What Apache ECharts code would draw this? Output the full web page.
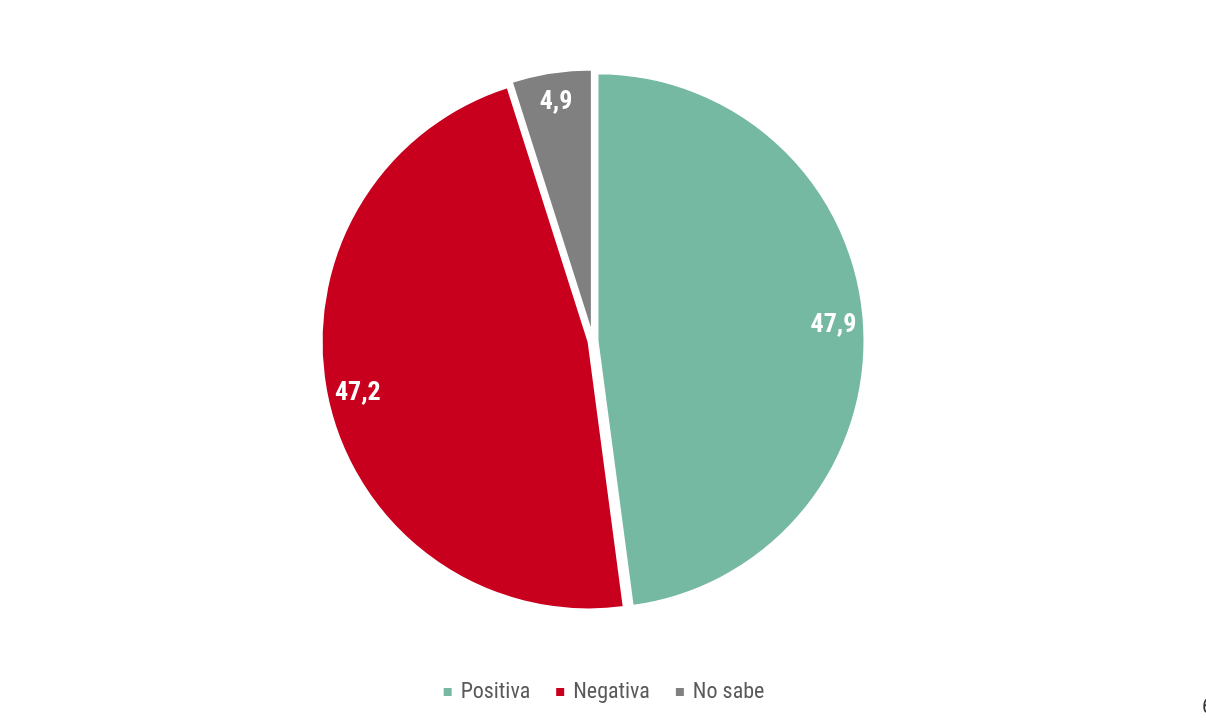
<!DOCTYPE html>
<html>
<head>
<meta charset="utf-8">
<script src="https://cdn.jsdelivr.net/npm/echarts@6/dist/echarts.min.js"></script>
<style>
html,body{margin:0;padding:0;background:#fff;}
#c{width:1206px;height:720px;}
</style>
</head>
<body>
<div id="c"></div>
<script>
const categories = ['Positiva', 'Negativa', 'No sabe'];
const values = [47.9, 47.2, 4.9];
const colors = ['#76B9A2', '#C8001E', '#808080'];
const pageNumber = '6';

const FONT = '"Roboto Condensed", "Arial Narrow", "Liberation Sans Narrow", sans-serif';
const chart = echarts.init(document.getElementById('c'), null, {renderer: 'canvas'});

const mainData = categories.map((n, i) => ({
  name: n, value: values[i], selected: true,
  itemStyle: {color: colors[i]}
}));
const labelData = categories.map((n, i) => ({
  name: n, value: values[i], selected: true
}));

const CENTER = [593, 341];

chart.setOption({
  animation: false,
  backgroundColor: '#ffffff',
  title: {
    text: pageNumber,
    left: 1197, top: 692,
    textStyle: {fontFamily: FONT, fontSize: 21, fontWeight: 'normal', color: '#333'}
  },
  legend: {
    data: categories,
    bottom: 12,
    left: 'center',
    itemWidth: 10,
    itemHeight: 10,
    itemGap: 24,
    icon: 'rect',
    textStyle: {fontFamily: FONT, fontSize: 22, color: '#595959', padding: [0, 0, 0, 3]}
  },
  series: [
    {
      type: 'pie',
      center: CENTER,
      radius: [0, 268],
      startAngle: 90,
      clockwise: true,
      selectedMode: 'multiple',
      selectedOffset: 4,
      itemStyle: {borderColor: '#ffffff', borderWidth: 3},
      label: {show: false},
      labelLine: {show: false},
      emphasis: {disabled: true},
      select: {itemStyle: {borderColor: '#ffffff', borderWidth: 3}},
      data: mainData
    },
    {
      type: 'pie',
      center: CENTER,
      radius: [0, 468],
      startAngle: 90,
      clockwise: true,
      silent: true,
      selectedMode: 'multiple',
      selectedOffset: 4,
      legendHoverLink: false,
      itemStyle: {color: 'rgba(0,0,0,0)', borderWidth: 0},
      select: {itemStyle: {color: 'rgba(0,0,0,0)', borderWidth: 0}},
      emphasis: {disabled: true},
      labelLine: {show: false},
      label: {
        show: true,
        position: 'inside',
        formatter: p => String(p.value).replace('.', ','),
        fontFamily: FONT,
        fontSize: 26,
        fontWeight: 'bold',
        color: '#ffffff'
      },
      data: labelData
    }
  ]
});
</script>
</body>
</html>
